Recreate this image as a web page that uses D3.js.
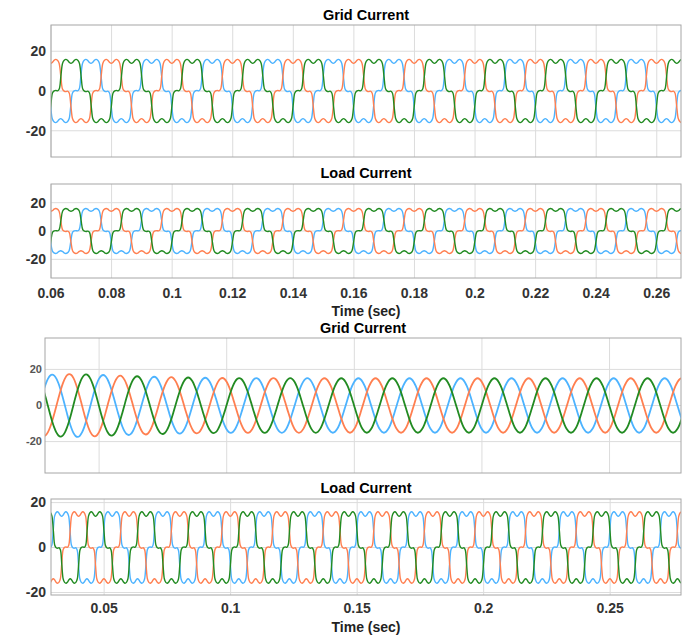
<!DOCTYPE html>
<html lang="en">
<head>
<meta charset="utf-8">
<title>Grid and Load Current</title>
<style>
  body { margin: 0; background: #fff; }
  svg text { font-family: "Liberation Sans", Arial, sans-serif; font-weight: bold; }
</style>
</head>
<body>
<div id="chart"></div>
<script src="https://d3js.org/d3.v7.min.js"></script>
<script>
var width = 687, height = 636;

// supply period (s)
var period = 0.02;

// phase colours: blue, orange, green
var phaseColors = ["#4db3ff", "#ff7f50", "#228b22"];

// load current, one cycle every 10 deg, positive lobe centred at 0 deg
var loadCycleDeg = [-180, -170, -160, -150, -140, -130, -120, -110, -100, -90, -80, -70, -60,
                    -50, -40, -30, -20, -10, 0, 10, 20, 30, 40, 50,
                    60, 70, 80, 90, 100, 110, 120, 130, 140, 150, 160, 170, 180];
var loadCycle = [-13.9, -14.4, -15.4, -15.9, -15.5, -14.0, -7.5, -1.0, 0.1, 0.3, 0.1, 1.0, 7.5,
                 14.0, 15.5, 15.9, 15.4, 14.4, 13.9, 14.4, 15.4, 15.9, 15.5, 14.0,
                 7.5, 1.0, -0.1, -0.3, -0.1, -1.0, -7.5, -14.0, -15.5, -15.9, -15.4, -14.4, -13.9];
// time of the positive lobe centre of each phase (s, modulo one period)
var loadCentre = [0.0132, 0.0199, 0.0066];

// compensated grid current: unit cycle every 15 deg starting at the peak
var sineCycleDeg = [0, 15, 30, 45, 60, 75, 90, 105, 120, 135, 150, 165, 180,
                    195, 210, 225, 240, 255, 270, 285, 300, 315, 330, 345, 360];
var sineCycle = [1, 0.966, 0.866, 0.707, 0.5, 0.259, 0, -0.259, -0.5, -0.707, -0.866, -0.966, -1,
                 -0.966, -0.866, -0.707, -0.5, -0.259, 0, 0.259, 0.5, 0.707, 0.866, 0.966, 1];
var gridPeak = [0.0116, 0.0183, 0.0049];
// peak amplitude
var gridEnvT = [0.025, 0.04, 0.05, 0.06, 0.07, 0.08, 0.1, 0.14, 0.3];
var gridEnvA = [16.8, 17.5, 17.0, 16.4, 16.0, 15.6, 15.2, 15.1, 15.1];

// ticks
var yTicks = [-20, 0, 20];
var xTicksTop = [0.06, 0.08, 0.1, 0.12, 0.14, 0.16, 0.18, 0.2, 0.22, 0.24, 0.26];
var xTicksBottom = [0.05, 0.1, 0.15, 0.2, 0.25];

var panels = [
  {title: "Grid Current", titleY: 20, left: 51, right: 681, top: 25, bottom: 157,
   x: [0.06, 0.268], y: [-33.2, 33.2], xt: xTicksTop, kind: "load", xLabels: false},
  {title: "Load Current", titleY: 178, left: 51, right: 681, top: 184, bottom: 278,
   x: [0.06, 0.268], y: [-33.2, 33.2], xt: xTicksTop, kind: "load", xLabels: true, labelY: 298, axisY: 316},
  {title: "Grid Current", titleY: 333, left: 45, right: 681, top: 338, bottom: 473,
   x: [0.0288, 0.278], y: [-37.4, 37.4], xt: xTicksBottom, kind: "grid", xLabels: false, small: true},
  {title: "Load Current", titleY: 493, left: 51, right: 681, top: 499, bottom: 595,
   x: [0.029, 0.278], y: [-21.1, 21.6], xt: xTicksBottom, kind: "load", xLabels: true, labelY: 613, axisY: 632}
];

var svg = d3.select("#chart").append("svg")
  .attr("width", width)
  .attr("height", height);

var envelope = d3.scaleLinear().domain(gridEnvT).range(gridEnvA);

// repeat the read cycle over the visible time range
function buildSeries(kind, ci, t0, t1) {
  var pts = [];
  var deg = kind == "load" ? loadCycleDeg : sineCycleDeg;
  var val = kind == "load" ? loadCycle : sineCycle;
  var tc = kind == "load" ? loadCentre[ci] : gridPeak[ci];
  var k0 = Math.floor((t0 - tc) / period) - 1;
  var k1 = Math.ceil((t1 - tc) / period) + 1;
  for (var k = k0; k <= k1; k++) {
    for (var i = 0; i < deg.length - 1; i++) {
      var t = tc + k * period + deg[i] / 360 * period;
      var v = kind == "load" ? val[i] : val[i] * envelope(t);
      pts.push([t, v]);
    }
  }
  return pts;
}

panels.forEach(function(p, pi) {
  var x = d3.scaleLinear().domain(p.x).range([p.left, p.right]);
  var y = d3.scaleLinear().domain(p.y).range([p.bottom, p.top]);
  var g = svg.append("g");

  g.append("clipPath").attr("id", "clip" + pi)
    .append("rect")
    .attr("x", p.left).attr("y", p.top)
    .attr("width", p.right - p.left).attr("height", p.bottom - p.top);

  // grid
  g.selectAll(".vgrid").data(p.xt).enter().append("line")
    .attr("x1", function(d) { return x(d); })
    .attr("x2", function(d) { return x(d); })
    .attr("y1", p.top).attr("y2", p.bottom)
    .attr("stroke", "#dcdcdc").attr("stroke-width", 1);
  g.selectAll(".hgrid").data(yTicks).enter().append("line")
    .attr("x1", p.left).attr("x2", p.right)
    .attr("y1", function(d) { return y(d); })
    .attr("y2", function(d) { return y(d); })
    .attr("stroke", "#dcdcdc").attr("stroke-width", 1);

  // traces
  var line = d3.line()
    .x(function(d) { return x(d[0]); })
    .y(function(d) { return y(d[1]); })
    .curve(d3.curveCatmullRom.alpha(0.5));
  var traces = g.append("g").attr("clip-path", "url(#clip" + pi + ")");
  [0, 1, 2].forEach(function(ci) {
    traces.append("path")
      .attr("d", line(buildSeries(p.kind, ci, p.x[0], p.x[1])))
      .attr("fill", "none")
      .attr("stroke", phaseColors[ci])
      .attr("stroke-width", p.kind == "grid" ? 1.8 : 1.4);
  });

  // box
  g.append("rect")
    .attr("x", p.left).attr("y", p.top)
    .attr("width", p.right - p.left).attr("height", p.bottom - p.top)
    .attr("fill", "none").attr("stroke", "#a6a6a6").attr("stroke-width", 1);

  // y labels
  g.selectAll(".ylab").data(yTicks).enter().append("text")
    .attr("x", p.left - (p.small ? 3 : 5))
    .attr("y", function(d) { return y(d); })
    .attr("dy", "0.35em")
    .attr("text-anchor", "end")
    .attr("font-size", p.small ? 11 : 14)
    .attr("fill", p.small ? "#555" : "#333")
    .text(function(d) { return d; });

  if (p.xLabels) {
    g.selectAll(".xlab").data(p.xt).enter().append("text")
      .attr("x", function(d) { return x(d); })
      .attr("y", p.labelY)
      .attr("text-anchor", "middle")
      .attr("font-size", 14)
      .attr("fill", "#333")
      .text(function(d) { return d; });
    g.append("text")
      .attr("x", (p.left + p.right) / 2)
      .attr("y", p.axisY)
      .attr("text-anchor", "middle")
      .attr("font-size", 14)
      .attr("fill", "#222")
      .text("Time (sec)");
  }

  g.append("text")
    .attr("x", (p.left + p.right) / 2)
    .attr("y", p.titleY)
    .attr("text-anchor", "middle")
    .attr("font-size", 14.5)
    .attr("fill", "#000")
    .text(p.title);
});
</script>
</body>
</html>
